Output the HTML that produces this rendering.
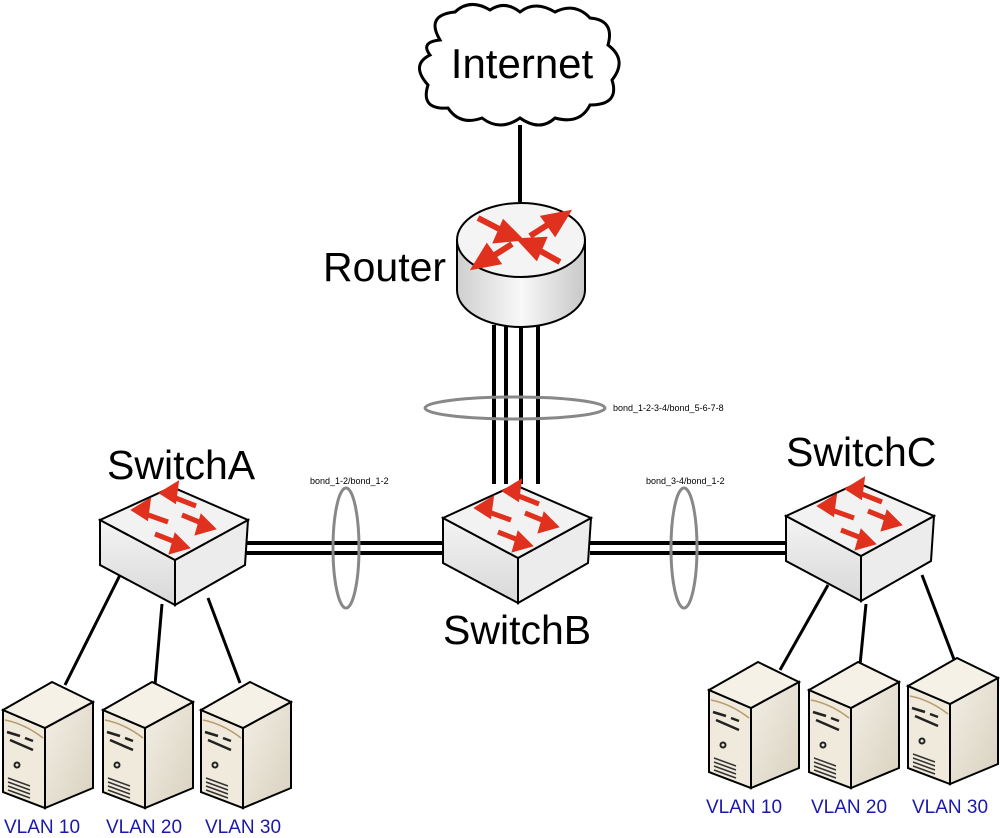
<!DOCTYPE html>
<html><head><meta charset="utf-8"><style>
html,body{margin:0;padding:0;background:#fff}
svg{display:block}
text{font-family:"Liberation Sans",sans-serif}
</style></head><body>
<svg width="1000" height="838" viewBox="0 0 1000 838" xmlns="http://www.w3.org/2000/svg">
<defs>
<linearGradient id="sw" x1="0" y1="0" x2="0" y2="1"><stop offset="0" stop-color="#f4f4f4"/><stop offset="1" stop-color="#d8d8d8"/></linearGradient>
<linearGradient id="srv" x1="0" y1="0" x2="1" y2="1"><stop offset="0" stop-color="#f3efe6"/><stop offset="1" stop-color="#d9d1bf"/></linearGradient>
<linearGradient id="cyl" x1="0" y1="0" x2="1" y2="0"><stop offset="0" stop-color="#cfcfcf"/><stop offset="0.5" stop-color="#f8f8f8"/><stop offset="1" stop-color="#c8c8c8"/></linearGradient>
<g id="switch">
<polygon points="0,0 75,40 75,85 0,45" fill="url(#sw)" stroke="#000" stroke-width="2"/>
<polygon points="75,40 148,0 145,45 75,85" fill="#ececec" stroke="#000" stroke-width="2"/>
<polygon points="0,0 72,-33 148,0 75,40" fill="#f2f2f2" stroke="#000" stroke-width="2"/>
<g stroke="#e0301e" stroke-width="5" fill="#e0301e">
<line x1="40" y1="-8" x2="68" y2="2"/><polygon points="35,-10 48,-18 46,-3"/>
<line x1="68" y1="-25" x2="96" y2="-14"/><polygon points="63,-27 76,-35 74,-20"/>
<line x1="82" y1="-5" x2="104" y2="4"/><polygon points="112,8 98,12 102,-2"/>
<line x1="55" y1="14" x2="78" y2="23"/><polygon points="86,27 72,31 76,17"/>
</g>
</g>
<g id="server">
<polygon points="3,30 45,48 45,128 3,112" fill="#efeadc" stroke="#000" stroke-width="2"/>
<polygon points="45,48 93,22 93,108 45,128" fill="url(#srv)" stroke="#000" stroke-width="2"/>
<polygon points="3,30 52,2 93,22 45,48" fill="#f5f1e7" stroke="#000" stroke-width="2"/>
<path d="M5,40 Q25,44 43,58" stroke="#b89c70" fill="none" stroke-width="1.5"/>
<g stroke="#222" stroke-width="2.5">
<line x1="7" y1="52" x2="20" y2="56"/><line x1="25" y1="58" x2="33" y2="61"/>
<line x1="10" y1="60" x2="33" y2="70"/>
</g>
<circle cx="17" cy="85" r="2.5" fill="none" stroke="#222" stroke-width="2"/>
<g stroke="#333" stroke-width="1.5">
<line x1="8" y1="98" x2="30" y2="106"/><line x1="8" y1="102" x2="30" y2="110"/><line x1="8" y1="106" x2="30" y2="114"/><line x1="8" y1="110" x2="30" y2="118"/>
</g>
</g>
</defs>

<path d="M440,40 Q425,15 455,12 Q470,-2 490,10 Q505,0 520,12 Q535,0 555,12 Q575,2 590,18 Q615,20 608,45 Q628,60 612,80 Q620,105 590,105 Q580,125 555,118 Q540,132 520,118 Q500,132 482,118 Q460,126 448,108 Q420,110 428,85 Q410,65 430,55 Q420,42 440,40 Z" fill="#fff" stroke="#000" stroke-width="3"/>
<text x="522" y="78" font-size="42" text-anchor="middle">Internet</text>
<line x1="520" y1="125" x2="520" y2="202" stroke="#000" stroke-width="4"/>

<g stroke="#000" stroke-width="4">
<line x1="494" y1="325" x2="494" y2="484"/><line x1="506" y1="325" x2="506" y2="484"/>
<line x1="521" y1="325" x2="521" y2="484"/><line x1="538" y1="325" x2="538" y2="484"/>
</g>
<ellipse cx="515" cy="408" rx="90" ry="11" fill="none" stroke="#888" stroke-width="3"/>
<text x="613" y="411" font-size="9">bond_1-2-3-4/bond_5-6-7-8</text>

<path d="M457,240 L457,290 A64,37 0 0 0 585,290 L585,240 Z" fill="url(#cyl)" stroke="#000" stroke-width="2"/>
<ellipse cx="521" cy="240" rx="64" ry="37" fill="#f4f4f4" stroke="#000" stroke-width="2"/>
<g stroke="#e0301e" stroke-width="6" fill="#e0301e">
<line x1="478" y1="218" x2="505" y2="232"/><polygon points="518,238 497,240 504,224"/>
<line x1="560" y1="262" x2="535" y2="248"/><polygon points="522,241 543,240 536,256"/>
<line x1="512" y1="244" x2="490" y2="258"/><polygon points="476,266 487,248 497,262"/>
<line x1="530" y1="236" x2="552" y2="222"/><polygon points="566,214 555,232 545,218"/>
</g>
<text x="323" y="281" font-size="41">Router</text>

<g stroke="#000" stroke-width="4">
<line x1="246" y1="543" x2="445" y2="543"/><line x1="246" y1="553" x2="445" y2="553"/>
<line x1="590" y1="543" x2="788" y2="543"/><line x1="590" y1="553" x2="788" y2="553"/>
</g>
<ellipse cx="346" cy="548" rx="13" ry="60" fill="none" stroke="#888" stroke-width="3"/>
<ellipse cx="684" cy="548" rx="13" ry="60" fill="none" stroke="#888" stroke-width="3"/>
<text x="310" y="484" font-size="9">bond_1-2/bond_1-2</text>
<text x="646" y="484" font-size="9">bond_3-4/bond_1-2</text>

<g stroke="#000" stroke-width="3">
<line x1="120" y1="575" x2="65" y2="685"/><line x1="162" y1="604" x2="155" y2="685"/><line x1="208" y1="598" x2="240" y2="683"/>
<line x1="828" y1="585" x2="780" y2="670"/><line x1="866" y1="604" x2="860" y2="665"/><line x1="922" y1="575" x2="955" y2="662"/>
</g>

<use href="#switch" x="100" y="520"/>
<use href="#switch" x="443" y="518"/>
<use href="#switch" x="786" y="516"/>

<text x="107" y="479" font-size="41">SwitchA</text>
<text x="443" y="644" font-size="41">SwitchB</text>
<text x="786" y="466" font-size="41">SwitchC</text>

<use href="#server" x="0" y="680"/>
<use href="#server" x="100" y="680"/>
<use href="#server" x="198" y="680"/>
<use href="#server" x="706" y="660"/>
<use href="#server" x="806" y="660"/>
<use href="#server" x="905" y="656"/>

<g fill="#1a1aaa" font-size="19">
<text x="4" y="833">VLAN 10</text><text x="106" y="833">VLAN 20</text><text x="205" y="833">VLAN 30</text>
<text x="706" y="813">VLAN 10</text><text x="811" y="813">VLAN 20</text><text x="912" y="813">VLAN 30</text>
</g>
</svg>
</body></html>
